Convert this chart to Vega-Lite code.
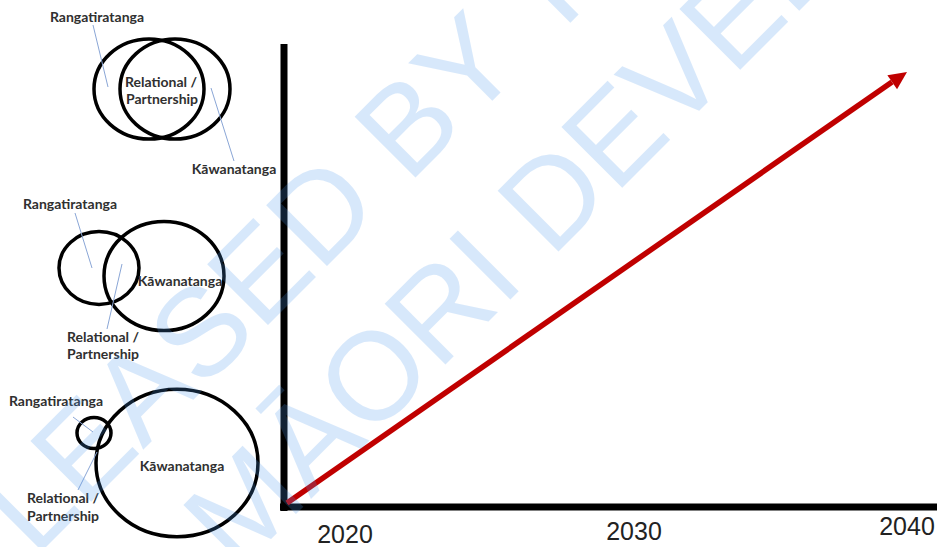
{
  "$schema": "https://vega.github.io/schema/vega-lite/v6.json",
  "width": 937,
  "height": 547,
  "padding": 0,
  "autosize": {"type": "none"},
  "background": "white",
  "config": {"view": {"stroke": null}},
  "datasets": {
    "circles": [
      {"set": 1, "name": "Rangatiratanga", "x": 149, "y": 89, "r": 55},
      {"set": 1, "name": "Kāwanatanga", "x": 175, "y": 89, "r": 55},
      {"set": 2, "name": "Rangatiratanga", "x": 99, "y": 268, "r": 40},
      {"set": 2, "name": "Kāwanatanga", "x": 164, "y": 276, "r": 60},
      {"set": 3, "name": "Rangatiratanga", "x": 94, "y": 433, "r": 17},
      {"set": 3, "name": "Kāwanatanga", "x": 177, "y": 463, "r": 81}
    ],
    "leaders": [
      {"x": 93, "y": 25, "x2": 108, "y2": 87},
      {"x": 211, "y": 88, "x2": 234, "y2": 161},
      {"x": 75, "y": 213, "x2": 92, "y2": 268},
      {"x": 122, "y": 264, "x2": 107, "y2": 329},
      {"x": 73, "y": 417, "x2": 93, "y2": 432},
      {"x": 97, "y": 452, "x2": 78, "y2": 490}
    ],
    "labels": [
      {"text": "Rangatiratanga", "x": 97, "y": 18},
      {"text": "Relational /", "x": 161, "y": 83},
      {"text": "Partnership", "x": 162, "y": 100},
      {"text": "Kāwanatanga", "x": 234, "y": 170},
      {"text": "Rangatiratanga", "x": 70, "y": 205},
      {"text": "Kāwanatanga", "x": 180, "y": 282},
      {"text": "Relational /", "x": 103, "y": 338},
      {"text": "Partnership", "x": 103, "y": 355},
      {"text": "Rangatiratanga", "x": 56, "y": 402},
      {"text": "Kāwanatanga", "x": 182, "y": 467},
      {"text": "Relational /", "x": 63, "y": 499},
      {"text": "Partnership", "x": 63, "y": 517}
    ],
    "frame": [
      {"side": "vertical", "x": 284, "y": 44, "x2": 284, "y2": 511},
      {"side": "horizontal", "x": 280, "y": 507, "x2": 937, "y2": 507}
    ],
    "arrow": [
      {"from": 2020, "to": 2040, "x": 287, "y": 503, "x2": 892, "y2": 82}
    ],
    "arrowhead": [
      {"to": 2040, "x": 898.8, "y": 77.7}
    ],
    "years": [
      {"label": "2020", "x": 345, "y": 535},
      {"label": "2030", "x": 634, "y": 532},
      {"label": "2040", "x": 907, "y": 527}
    ],
    "watermark": [
      {"text": "RELEASED BY TE PUNI KŌKIRI", "x": -88, "y": 681},
      {"text": "MĀORI DEVELOPMENT", "x": 237, "y": 573}
    ]
  },
  "encoding": {
    "x": {"field": "x", "type": "quantitative", "scale": {"domain": [0, 937], "nice": false, "zero": false}, "axis": null},
    "y": {"field": "y", "type": "quantitative", "scale": {"domain": [0, 547], "nice": false, "zero": false, "reverse": true}, "axis": null}
  },
  "layer": [
    {
      "data": {"name": "circles"},
      "mark": {"type": "point", "shape": "M-1,0A1,0.91,0,1,1,1,0A1,0.91,0,1,1,-1,0Z", "filled": false, "stroke": "#000000", "strokeWidth": 3.5, "opacity": 1},
      "encoding": {
        "size": {"field": "r", "type": "quantitative", "scale": {"type": "pow", "exponent": 2, "domain": [0, 100], "range": [0, 40000]}, "legend": null}
      }
    },
    {
      "data": {"name": "leaders"},
      "mark": {"type": "rule", "stroke": "#8aa6d6", "strokeWidth": 1},
      "encoding": {
        "x2": {"field": "x2"},
        "y2": {"field": "y2"}
      }
    },
    {
      "data": {"name": "labels"},
      "mark": {"type": "text", "font": "Lato", "fontWeight": "bold", "fontSize": 14, "fill": "#303030", "align": "center", "baseline": "middle"},
      "encoding": {"text": {"field": "text"}}
    },
    {
      "data": {"name": "frame"},
      "mark": {"type": "rule", "stroke": "#000000", "strokeWidth": 7, "strokeCap": "butt"},
      "encoding": {
        "x2": {"field": "x2"},
        "y2": {"field": "y2"}
      }
    },
    {
      "data": {"name": "arrow"},
      "mark": {"type": "rule", "stroke": "#c00000", "strokeWidth": 5.5, "strokeCap": "butt"},
      "encoding": {
        "x2": {"field": "x2"},
        "y2": {"field": "y2"}
      }
    },
    {
      "data": {"name": "arrowhead"},
      "mark": {"type": "point", "shape": "M0,-1L0.85,0.8L-0.85,0.8Z", "filled": true, "fill": "#c00000", "size": 400, "angle": 55.3, "opacity": 1, "strokeWidth": 0}
    },
    {
      "data": {"name": "years"},
      "mark": {"type": "text", "font": "Liberation Sans", "fontSize": 25, "fill": "#222222", "align": "center", "baseline": "middle"},
      "encoding": {"text": {"field": "label"}}
    },
    {
      "data": {"name": "watermark"},
      "mark": {"type": "text", "font": "Liberation Sans", "fontSize": 125, "fill": "#4f9bef", "opacity": 0.22, "align": "left", "baseline": "alphabetic", "angle": 315, "clip": true},
      "encoding": {"text": {"field": "text"}}
    }
  ]
}
